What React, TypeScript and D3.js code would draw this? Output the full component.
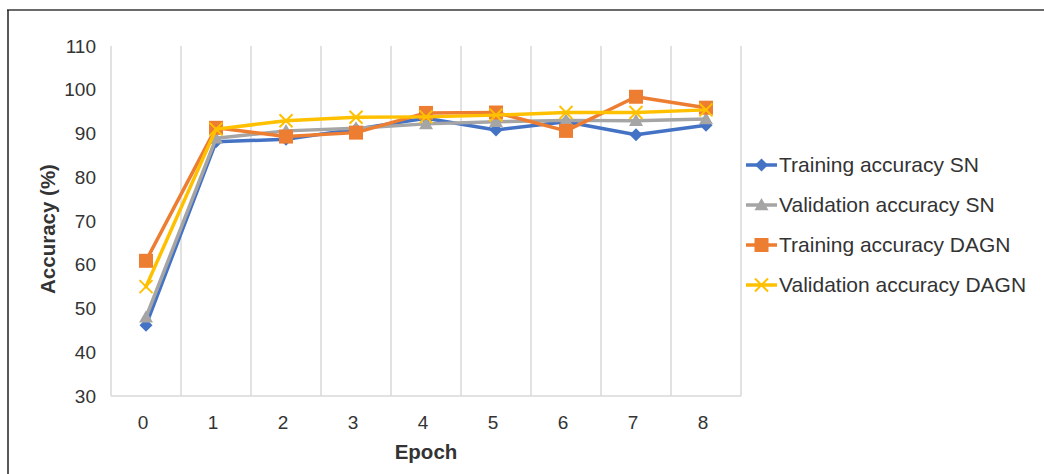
import React from "react";
import * as d3 from "d3";

const epochs = [0, 1, 2, 3, 4, 5, 6, 7, 8];
const trainSN = [46.2, 88.1, 88.7, 91.0, 93.5, 90.8, 92.7, 89.7, 91.9];
const valSN = [48.0, 88.9, 90.6, 91.2, 92.2, 92.7, 93.0, 92.9, 93.3];
const trainDAGN = [60.9, 91.3, 89.3, 90.2, 94.7, 94.8, 90.6, 98.4, 95.9];
const valDAGN = [55.0, 91.0, 92.9, 93.7, 93.8, 94.2, 94.8, 94.8, 95.4];
const yTicks = [30, 40, 50, 60, 70, 80, 90, 100, 110];

const seriesNames = [
  "Training accuracy SN",
  "Validation accuracy SN",
  "Training accuracy DAGN",
  "Validation accuracy DAGN",
];
const seriesValues = [trainSN, valSN, trainDAGN, valDAGN];
const seriesColors = ["#4472C4", "#A5A5A5", "#ED7D31", "#FFC000"];
const seriesMarkers = ["diamond", "triangle", "square", "cross"];

const W = 1044;
const H = 474;
const plot = { left: 111, right: 741, top: 46, bottom: 396 };
const FONT = "'Liberation Sans', Arial, sans-serif";

function Marker({ kind, x, y, color }: { kind: string; x: number; y: number; color: string }) {
  if (kind === "diamond") {
    const s = 6.5;
    return <path d={`M${x},${y - s}L${x + s},${y}L${x},${y + s}L${x - s},${y}Z`} fill={color} />;
  }
  if (kind === "triangle") {
    const s = 7;
    return <path d={`M${x},${y - s}L${x + s},${y + s * 0.75}L${x - s},${y + s * 0.75}Z`} fill={color} />;
  }
  if (kind === "square") {
    const s = 7;
    return <rect x={x - s} y={y - s} width={2 * s} height={2 * s} fill={color} />;
  }
  const s = 6.5;
  return (
    <path
      d={`M${x - s},${y - s}L${x + s},${y + s}M${x + s},${y - s}L${x - s},${y + s}`}
      stroke={color}
      strokeWidth={2}
      fill="none"
    />
  );
}

export default function App() {
  const x = d3
    .scaleBand<number>()
    .domain(epochs)
    .range([plot.left, plot.right])
    .padding(0);
  const y = d3.scaleLinear().domain([30, 110]).range([plot.bottom, plot.top]);
  const cx = (e: number) => (x(e) as number) + x.bandwidth() / 2;
  const line = d3
    .line<number>()
    .x((_, i) => cx(epochs[i]))
    .y((v) => y(v));

  const gridXs = epochs.map((e) => x(e) as number).concat([plot.right]);
  const legendX = 746;
  const legendY0 = 165;
  const legendStep = 40;

  return (
    <div style={{ position: "fixed", left: 0, top: 0 }}>
      <svg width={W} height={H} style={{ display: "block", background: "#fff" }}>
        <rect x={0} y={0} width={W} height={H} fill="#fff" />
        {/* outer frame */}
        <line x1={7} y1={10} x2={W} y2={10} stroke="#6a6a6a" strokeWidth={2} />
        <line x1={8} y1={10} x2={8} y2={H} stroke="#222" strokeWidth={1.5} />

        {/* vertical gridlines */}
        {gridXs.map((gx, i) => (
          <line key={i} x1={gx} x2={gx} y1={plot.top} y2={plot.bottom} stroke="#d9d9d9" strokeWidth={1.5} />
        ))}
        {/* x axis line */}
        <line x1={plot.left} x2={plot.right} y1={plot.bottom} y2={plot.bottom} stroke="#d9d9d9" strokeWidth={1.5} />

        {/* y tick labels */}
        {yTicks.map((t) => (
          <text
            key={t}
            x={96}
            y={y(t)}
            dy="0.35em"
            textAnchor="end"
            fontFamily={FONT}
            fontSize={19}
            fill="#333"
          >
            {t}
          </text>
        ))}
        {/* x tick labels */}
        {epochs.map((e) => (
          <text
            key={e}
            x={cx(e) - 3}
            y={429}
            textAnchor="middle"
            fontFamily={FONT}
            fontSize={19}
            fill="#333"
          >
            {e}
          </text>
        ))}

        {/* axis titles */}
        <text
          x={426}
          y={459}
          textAnchor="middle"
          fontFamily={FONT}
          fontSize={20.5}
          fontWeight="bold"
          fill="#333"
        >
          Epoch
        </text>
        <text
          transform={`translate(55,229) rotate(-90)`}
          textAnchor="middle"
          fontFamily={FONT}
          fontSize={20.5}
          fontWeight="bold"
          fill="#333"
        >
          Accuracy (%)
        </text>

        {/* series */}
        {seriesValues.map((vals, si) => (
          <g key={si}>
            <path
              d={line(vals) as string}
              fill="none"
              stroke={seriesColors[si]}
              strokeWidth={3.5}
              strokeLinejoin="round"
              strokeLinecap="round"
            />
            {vals.map((v, i) => (
              <Marker key={i} kind={seriesMarkers[si]} x={cx(epochs[i])} y={y(v)} color={seriesColors[si]} />
            ))}
          </g>
        ))}

        {/* legend */}
        {seriesNames.map((name, si) => {
          const ly = legendY0 + si * legendStep;
          return (
            <g key={si}>
              <line x1={legendX} x2={legendX + 31} y1={ly} y2={ly} stroke={seriesColors[si]} strokeWidth={3.5} />
              <Marker kind={seriesMarkers[si]} x={legendX + 15.5} y={ly} color={seriesColors[si]} />
              <text x={779} y={ly} dy="0.35em" fontFamily={FONT} fontSize={21} fill="#333">
                {name}
              </text>
            </g>
          );
        })}
      </svg>
    </div>
  );
}
